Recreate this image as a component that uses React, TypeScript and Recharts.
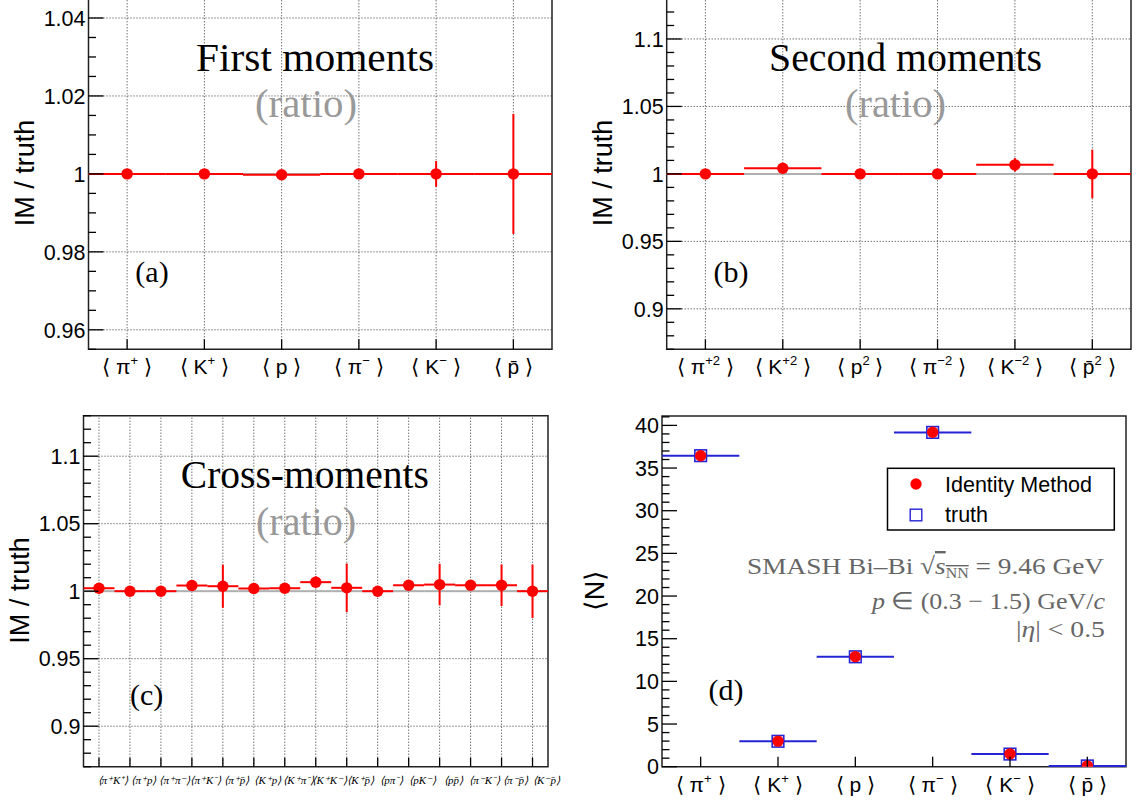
import React from 'react';
import { ComposedChart, Scatter, ErrorBar, XAxis, YAxis, CartesianGrid, ReferenceArea, ReferenceLine } from 'recharts';

const SANS = '"Liberation Sans", Arial, Helvetica, sans-serif';
const SERIF = '"Liberation Serif", "Times New Roman", Times, serif';
const RED = '#ff0000';
const BLUE = '#2525d6';
const TRUTH_GREY = '#b0b0b0';
const NOTE_GREY = '#666666';

type Sym = [string, string]; // [symbol, superscript]

// (a) first moments, IM / truth
const FIRST_LABELS: Sym[] = [['π', '+'], ['K', '+'], ['p', ''], ['π', '−'], ['K', '−'], ['p\u0304', '']];
const FIRST_RATIO = [1.0, 1.0, 0.9998, 1.0, 1.0, 1.0];
const FIRST_ERR = [0.0003, 0.0008, 0.0004, 0.0003, 0.0033, 0.0154];
const FIRST_MAJOR = [0.96, 0.98, 1.0, 1.02, 1.04];

// (b) second moments
const SECOND_LABELS: Sym[] = [['π', '+2'], ['K', '+2'], ['p', '2'], ['π', '−2'], ['K', '−2'], ['p\u0304', '2']];
const SECOND_RATIO = [1.0, 1.0042, 1.0, 1.0, 1.0067, 1.0];
const SECOND_ERR = [0.001, 0.0015, 0.001, 0.001, 0.005, 0.018];

// (c) cross moments
const CROSS_LABELS: Sym[][] = [
  [['π', '+'], ['K', '+']], [['π', '+'], ['p', '']], [['π', '+'], ['π', '−']], [['π', '+'], ['K', '−']],
  [['π', '+'], ['p\u0304', '']], [['K', '+'], ['p', '']], [['K', '+'], ['π', '−']], [['K', '+'], ['K', '−']],
  [['K', '+'], ['p\u0304', '']], [['p', ''], ['π', '−']], [['p', ''], ['K', '−']], [['p', ''], ['p\u0304', '']],
  [['π', '−'], ['K', '−']], [['π', '−'], ['p\u0304', '']], [['K', '−'], ['p\u0304', '']],
];
const CROSS_RATIO = [1.0022, 1.0, 1.0, 1.0042, 1.0037, 1.002, 1.0022, 1.0067, 1.0025, 1.0, 1.0044, 1.0049, 1.0044, 1.0044, 1.0];
const CROSS_ERR = [0.002, 0.001, 0.001, 0.003, 0.016, 0.002, 0.002, 0.0044, 0.018, 0.001, 0.003, 0.0154, 0.002, 0.0154, 0.0198];

const RATIO_MAJOR = [0.9, 0.95, 1.0, 1.05, 1.1];

// (d) mean multiplicities
const MEAN_IM = [36.45, 3.0, 12.9, 39.2, 1.5, 0.1];
const MEAN_TRUTH = [36.45, 2.98, 12.88, 39.18, 1.48, 0.09];
const MEAN_MAJOR = [0, 5, 10, 15, 20, 25, 30, 35, 40];

const steps = (lo: number, hi: number, step: number) => {
  const out: number[] = [];
  for (let v = lo; v <= hi + step * 1e-6; v += step) out.push(+v.toFixed(4));
  return out;
};

type Seg = { t: string; sup?: boolean; it?: boolean };

const rich = (segs: Seg[], size: number) => {
  let up = false;
  return segs
    .filter((s) => s.t !== '')
    .map((s, i) => {
      let dy: number | undefined;
      if (s.sup && !up) { dy = -size * 0.42; up = true; }
      else if (!s.sup && up) { dy = size * 0.42; up = false; }
      return (
        <tspan key={i} dy={dy} fontSize={s.sup ? size * 0.62 : size} fontStyle={s.it ? 'italic' : undefined}>
          {s.t}
        </tspan>
      );
    });
};

const SUP: Record<string, string> = { '+': '⁺', '−': '⁻' };
const crossText = (pair: Sym[]) => '⟨' + pair.map(([b, s]) => b + (SUP[s] || '')).join('') + '⟩';

const fmt = (v: number) => String(+v.toFixed(3));

const makeYTick = (left: number, majors: number[]) => (p: any) => {
  const v = p.payload.value;
  const major = majors.some((m) => Math.abs(m - v) < 1e-7);
  return (
    <g>
      <line x1={left} x2={left + (major ? 15 : 7.5)} y1={p.y} y2={p.y} stroke="#000" strokeWidth={1.3} />
      {major && (
        <text x={left - 3} y={p.y} dy="0.36em" textAnchor="end" fontFamily={SANS} fontSize={21.5} fill="#000">
          {fmt(v)}
        </text>
      )}
    </g>
  );
};

const makeSymTick = (labels: Sym[]) => (bottom: number) => (p: any) => {
  const [b, s] = labels[p.index] || ['', ''];
  return (
    <g>
      <line x1={p.x} x2={p.x} y1={bottom} y2={bottom - 10} stroke="#000" strokeWidth={1.3} />
      <text x={p.x} y={bottom + 25} textAnchor="middle" fontFamily={SANS} fontSize={21} fill="#000">
        {rich([{ t: '⟨ ' }, { t: b }, { t: s, sup: true }, { t: ' ⟩' }], 21)}
      </text>
    </g>
  );
};

// crowded labels of (c): one small text node per bin
const crossTick = (bottom: number) => (p: any) => {
  const pair = CROSS_LABELS[p.index] || [];
  return (
    <g>
      <line x1={p.x} x2={p.x} y1={bottom} y2={bottom - 9} stroke="#000" strokeWidth={1.3} />
      <text
        x={p.x + 14}
        y={bottom + 17}
        textAnchor="middle"
        fontFamily={SERIF}
        fontStyle="italic"
        fontSize={11}
        fill="#000"
      >
        {crossText(pair)}
      </text>
    </g>
  );
};

const Dot = (p: any) => <circle cx={p.cx} cy={p.cy} r={5.7} fill={RED} />;
const Square = (p: any) => (
  <rect x={p.cx - 5.8} y={p.cy - 5.8} width={11.6} height={11.6} fill="#fff" stroke={BLUE} strokeWidth={1.6} />
);
const NoMark = () => <g />;

interface PanelProps {
  box: { x: number; y: number; w: number; h: number };
  plot: { l: number; r: number; t: number; b: number };
  n: number; domain: [number, number]; majors: number[]; minors: number[];
  grid: boolean; xTick: (bottom: number) => (p: any) => React.ReactElement;
  children: React.ReactNode;
}

const Panel = ({ box, plot, n, domain, majors, minors, grid, xTick, children }: PanelProps) => {
  const centers = Array.from({ length: n }, (_, i) => i + 0.5);
  const left = plot.l - box.x;
  const bottom = plot.b - box.y;
  const margin = { left: left - 1, right: box.x + box.w - plot.r, top: plot.t - box.y, bottom: box.h - bottom - 1 };
  return (
    <div style={{ position: 'absolute', left: box.x, top: box.y, width: box.w, height: box.h }}>
      <ComposedChart width={box.w} height={box.h} margin={margin}>
        {grid && (
          <CartesianGrid horizontalValues={majors} vertical={false} stroke="#333" strokeDasharray="1 2" strokeWidth={1} />
        )}
        {grid &&
          centers.map((c) => (
            <ReferenceLine key={c} x={c} stroke="#333" strokeDasharray="1 2" strokeWidth={1} />
          ))}
        <XAxis
          type="number"
          dataKey="x"
          domain={[0, n]}
          ticks={centers}
          interval={0}
          height={1}
          axisLine={false}
          tickLine={false}
          tick={xTick(bottom)}
          allowDataOverflow
        />
        <YAxis
          type="number"
          domain={domain}
          ticks={minors}
          interval={0}
          width={1}
          axisLine={false}
          tickLine={false}
          tick={makeYTick(left, majors)}
          allowDataOverflow
        />
        <ReferenceArea x1={0} x2={n} y1={domain[0]} y2={domain[1]} fill="none" stroke="#222" strokeWidth={1.5} ifOverflow="visible" />
        {children}
      </ComposedChart>
    </div>
  );
};

const ratioSeries = (ratio: number[], err: number[]) => {
  const truth = ratio.map((_, i) => ({ x: i + 0.5, y: 1, ex: 0.5 }));
  const im = ratio.map((v, i) => ({ x: i + 0.5, y: v, ey: err[i], ex: 0.5 }));
  return [
    <Scatter key="truth" data={truth} dataKey="y" shape={NoMark} isAnimationActive={false}>
      <ErrorBar dataKey="ex" direction="x" width={0} stroke={TRUTH_GREY} strokeWidth={2} isAnimationActive={false} />
    </Scatter>,
    <Scatter key="im" data={im} dataKey="y" shape={Dot} isAnimationActive={false}>
      <ErrorBar dataKey="ex" direction="x" width={0} stroke={RED} strokeWidth={2} isAnimationActive={false} />
      <ErrorBar dataKey="ey" direction="y" width={0} stroke={RED} strokeWidth={2} isAnimationActive={false} />
    </Scatter>,
  ];
};

export default function App() {
  const meanTruth = MEAN_TRUTH.map((v, i) => ({ x: i + 0.5, y: v, ex: 0.5 }));
  const meanIm = MEAN_IM.map((v, i) => ({ x: i + 0.5, y: v }));
  const title = { fontFamily: SERIF, fontSize: 40, textAnchor: 'middle' as const, lengthAdjust: 'spacingAndGlyphs' as const };

  return (
    <div style={{ position: 'absolute', left: 0, top: 0, width: 1137, height: 801, background: '#fff', overflow: 'hidden' }}>
      <Panel
        box={{ x: 0, y: -10, w: 570, h: 400 }} plot={{ l: 88.5, r: 552, t: -1.5, b: 349.3 }}
        n={6} domain={[0.955, 1.045]} majors={FIRST_MAJOR} minors={steps(0.955, 1.045, 0.005)}
        grid xTick={makeSymTick(FIRST_LABELS)}
      >
        {ratioSeries(FIRST_RATIO, FIRST_ERR)}
      </Panel>
      <Panel
        box={{ x: 570, y: -10, w: 567, h: 400 }} plot={{ l: 666.7, r: 1131, t: -1.5, b: 349.3 }}
        n={6} domain={[0.87, 1.13]} majors={RATIO_MAJOR} minors={steps(0.87, 1.13, 0.01)}
        grid xTick={makeSymTick(SECOND_LABELS)}
      >
        {ratioSeries(SECOND_RATIO, SECOND_ERR)}
      </Panel>
      <Panel
        box={{ x: 0, y: 400, w: 570, h: 401 }} plot={{ l: 83.5, r: 548, t: 415.7, b: 766.7 }}
        n={15} domain={[0.87, 1.13]} majors={RATIO_MAJOR} minors={steps(0.87, 1.13, 0.01)}
        grid xTick={crossTick}
      >
        {ratioSeries(CROSS_RATIO, CROSS_ERR)}
      </Panel>
      <Panel
        box={{ x: 570, y: 400, w: 567, h: 401 }} plot={{ l: 662, r: 1126, t: 416, b: 766.7 }}
        n={6} domain={[0, 41.1]} majors={MEAN_MAJOR} minors={steps(0, 41, 1)}
        grid={false} xTick={makeSymTick(FIRST_LABELS)}
      >
        <Scatter data={meanTruth} dataKey="y" shape={Square} isAnimationActive={false}>
          <ErrorBar dataKey="ex" direction="x" width={0} stroke={BLUE} strokeWidth={2} isAnimationActive={false} />
        </Scatter>
        <Scatter data={meanIm} dataKey="y" shape={Dot} isAnimationActive={false} />
      </Panel>

      <svg width={1137} height={801} style={{ position: 'absolute', left: 0, top: 0, pointerEvents: 'none' }}>
        {/* axis titles */}
        <g fontFamily={SANS} fontSize={27} fill="#000" textAnchor="middle">
          <text transform="translate(34,173) rotate(-90)">IM / truth</text>
          <text transform="translate(611.6,173) rotate(-90)">IM / truth</text>
          <text transform="translate(29,590.5) rotate(-90)">IM / truth</text>
          <text transform="translate(604,590.5) rotate(-90)">⟨N⟩</text>
        </g>

        {/* panel titles */}
        <text x={315} y={70.7} {...title} textLength={238} fill="#000">First moments</text>
        <text x={306} y={117} {...title} textLength={102} fill="#999">(ratio)</text>
        <text x={905.5} y={70.7} {...title} textLength={273} fill="#000">Second moments</text>
        <text x={895.5} y={117} {...title} textLength={101} fill="#999">(ratio)</text>
        <text x={304.8} y={488.3} {...title} textLength={248} fill="#000">Cross-moments</text>
        <text x={306} y={535} {...title} textLength={100} fill="#999">(ratio)</text>

        <g fontFamily={SERIF} fontSize={30} fill="#000" textAnchor="middle">
          <text x={152} y={282}>(a)</text>
          <text x={731} y={282}>(b)</text>
          <text x={146.7} y={705}>(c)</text>
          <text x={726} y={700}>(d)</text>
        </g>

        {/* legend of (d) */}
        <rect x={887.5} y={468.3} width={226.8} height={61.7} fill="#fff" stroke="#000" strokeWidth={1.5} />
        <circle cx={916} cy={484} r={5.7} fill={RED} />
        <rect x={910.2} y={509.2} width={11.6} height={11.6} fill="#fff" stroke={BLUE} strokeWidth={1.4} />
        <g fontFamily={SANS} fontSize={21.5} fill="#000">
          <text x={945} y={491.5}>Identity Method</text>
          <text x={945} y={522}>truth</text>
        </g>

        {/* simulation notes */}
        <g fontFamily={SERIF} fontSize={24} fill={NOTE_GREY} textAnchor="end">
          <text x={1104} y={574} textLength={357} lengthAdjust="spacingAndGlyphs">
            SMASH Bi–Bi √<tspan fontStyle="italic" textDecoration="overline">s</tspan>
            <tspan fontSize={14} dy={4} textDecoration="overline">NN</tspan>
            <tspan dy={-4}> = 9.46 GeV</tspan>
          </text>
          <text x={1105} y={609} textLength={233} lengthAdjust="spacingAndGlyphs">
            <tspan fontStyle="italic">p</tspan> ∈ (0.3 − 1.5) GeV/<tspan fontStyle="italic">c</tspan>
          </text>
          <text x={1105} y={636.7} textLength={89} lengthAdjust="spacingAndGlyphs">
            |<tspan fontStyle="italic">η</tspan>| &lt; 0.5
          </text>
        </g>
      </svg>
    </div>
  );
}
